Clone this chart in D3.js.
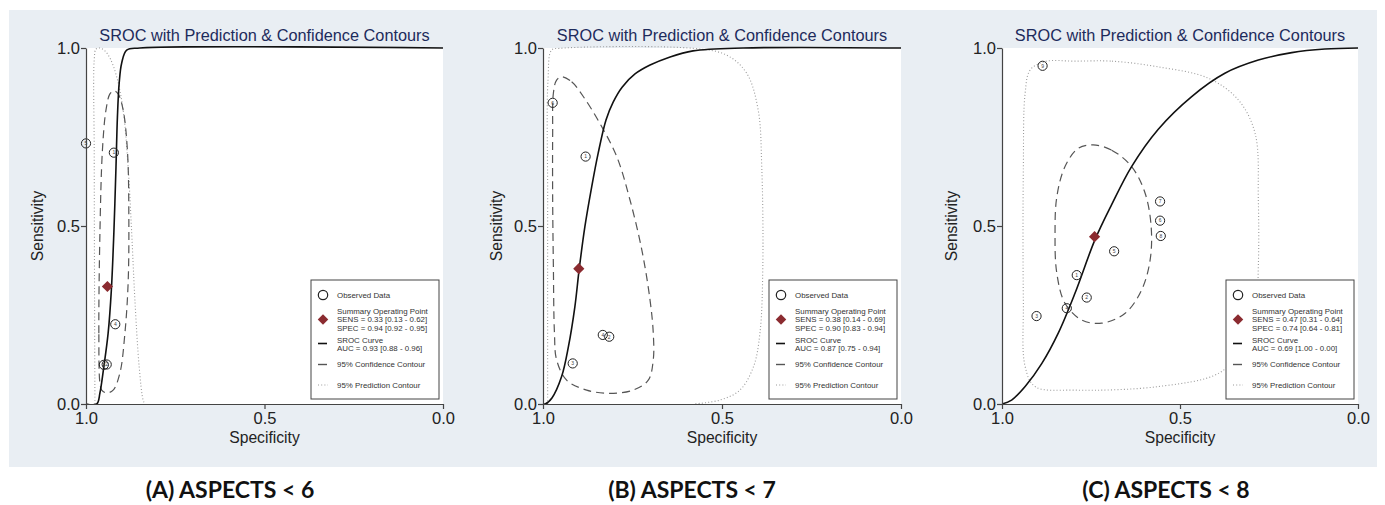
<!DOCTYPE html>
<html>
<head>
<meta charset="utf-8">
<script src="https://cdn.jsdelivr.net/npm/d3@7"></script>
<style>
  body { margin: 0; background: #fff; }
  svg { display: block; }
  text { font-family: "Liberation Sans", Arial, sans-serif; }
  text.caption { font-family: Lato, "Open Sans", sans-serif; font-weight: bold; }
</style>
</head>
<body>
<svg id="chart" width="1385" height="505"></svg>
<script>
// ---- data (specificity, sensitivity) ----
var title = "SROC with Prediction & Confidence Contours";
var captions = ["(A) ASPECTS < 6", "(B) ASPECTS < 7", "(C) ASPECTS < 8"];
var tickValues = [0, 0.5, 1];

// observed studies: [spec, sens, label]
var obsA = [[1.00, 0.732, "5"], [0.922, 0.706, "1"], [0.918, 0.224, "4"], [0.942, 0.111, "2"], [0.950, 0.110, "3"]];
var obsB = [[0.973, 0.846, "6"], [0.881, 0.695, "1"], [0.833, 0.194, "4"], [0.815, 0.189, "2"], [0.917, 0.114, "3"]];
var obsC = [[0.886, 0.950, "9"], [0.556, 0.569, "7"], [0.556, 0.515, "6"], [0.554, 0.472, "8"], [0.685, 0.429, "5"],
            [0.790, 0.362, "1"], [0.762, 0.299, "2"], [0.818, 0.269, "4"], [0.903, 0.247, "3"]];

// summary operating point: [spec, sens]
var summaryA = [0.94, 0.33];
var summaryB = [0.90, 0.38];
var summaryC = [0.74, 0.47];

// legend text
var summaryTextA = ["SENS = 0.33 [0.13 - 0.62]", "SPEC = 0.94 [0.92 - 0.95]"];
var summaryTextB = ["SENS = 0.38 [0.14 - 0.69]", "SPEC = 0.90 [0.83 - 0.94]"];
var summaryTextC = ["SENS = 0.47 [0.31 - 0.64]", "SPEC = 0.74 [0.64 - 0.81]"];
var aucA = "AUC = 0.93 [0.88 - 0.96]";
var aucB = "AUC = 0.87 [0.75 - 0.94]";
var aucC = "AUC = 0.69 [1.00 - 0.00]";

// SROC curves
var srocA = [[1.0, 0], [0.970, 0], [0.961, 0.031], [0.950, 0.105], [0.938, 0.199], [0.929, 0.320], [0.922, 0.480],
             [0.916, 0.666], [0.912, 0.806], [0.907, 0.902], [0.900, 0.958], [0.886, 0.994], [0.849, 1.0], [0, 1.0]];
var srocB = [[1.0, 0], [0.994, 0], [0.975, 0.017], [0.948, 0.077], [0.929, 0.161], [0.911, 0.273], [0.899, 0.378],
             [0.883, 0.498], [0.864, 0.610], [0.846, 0.704], [0.824, 0.798], [0.804, 0.848], [0.779, 0.890],
             [0.743, 0.927], [0.701, 0.952], [0.645, 0.975], [0.581, 0.992], [0.441, 1.0], [0, 1.0]];
var srocC = [[1.0, 0], [0.973, 0.011], [0.935, 0.049], [0.888, 0.114], [0.842, 0.199], [0.795, 0.311], [0.739, 0.461],
             [0.692, 0.560], [0.636, 0.667], [0.561, 0.772], [0.468, 0.863], [0.374, 0.929], [0.280, 0.966],
             [0.186, 0.987], [0.093, 0.997], [0, 1.0]];

// 95% confidence contours (closed)
var confA = [[0.961, 0.059], [0.964, 0.199], [0.961, 0.480], [0.954, 0.713], [0.944, 0.826], [0.933, 0.871], [0.922, 0.880],
             [0.910, 0.871], [0.896, 0.826], [0.884, 0.713], [0.880, 0.525], [0.882, 0.340], [0.891, 0.199], [0.905, 0.087],
             [0.924, 0.039], [0.942, 0.031], [0.956, 0.039]];
var confB = [[0.948, 0.919], [0.920, 0.905], [0.887, 0.863], [0.841, 0.788], [0.794, 0.695], [0.757, 0.573], [0.724, 0.433],
             [0.701, 0.292], [0.692, 0.199], [0.692, 0.124], [0.706, 0.067], [0.748, 0.039], [0.813, 0.030], [0.878, 0.039],
             [0.934, 0.067], [0.962, 0.124], [0.968, 0.199], [0.971, 0.386], [0.973, 0.573], [0.973, 0.760], [0.971, 0.873],
             [0.962, 0.910]];
var confC = [[0.744, 0.728], [0.692, 0.713], [0.636, 0.667], [0.598, 0.592], [0.581, 0.498], [0.584, 0.404], [0.608, 0.320],
             [0.654, 0.255], [0.720, 0.227], [0.776, 0.236], [0.823, 0.283], [0.846, 0.367], [0.851, 0.480], [0.846, 0.582],
             [0.823, 0.667], [0.786, 0.718]];

// 95% prediction contours (A, B open at the plot edge, C closed)
var predA = [[0.975, 0], [0.976, 0.292], [0.977, 0.713], [0.977, 0.966], [0.972, 0.997], [0.961, 1.0], [0.947, 0.992],
             [0.933, 0.972], [0.914, 0.919], [0.896, 0.826], [0.882, 0.666], [0.872, 0.480], [0.863, 0.292], [0.851, 0.104],
             [0.840, 0.011], [0.835, 0]];
var predB = [[0.987, 0], [0.987, 0.573], [0.986, 0.910], [0.976, 0.994], [0.953, 0.999], [0.580, 0.999], [0.487, 0.980],
             [0.431, 0.929], [0.399, 0.826], [0.389, 0.667], [0.386, 0.386], [0.394, 0.199], [0.412, 0.105], [0.450, 0.039],
             [0.506, 0.011], [0.580, 0]];
var predC = [[0.795, 0.963], [0.691, 0.963], [0.561, 0.947], [0.420, 0.915], [0.336, 0.854], [0.289, 0.760], [0.280, 0.573],
             [0.280, 0.386], [0.289, 0.245], [0.327, 0.152], [0.392, 0.086], [0.561, 0.049], [0.795, 0.039], [0.907, 0.049],
             [0.935, 0.105], [0.940, 0.292], [0.940, 0.667], [0.935, 0.873], [0.921, 0.938], [0.879, 0.962]];

// ---- layout ----
var svg = d3.select("#chart");
var plotTop = 48, plotBottom = 404;

svg.append("rect").attr("x", 9).attr("y", 10).attr("width", 1368).attr("height", 457).attr("fill", "#e9eef3");

var panels = [
  {left: 86, right: 443, obs: obsA, summary: summaryA, summaryText: summaryTextA, auc: aucA, sroc: srocA, conf: confA, pred: predA, predClosed: false, caption: captions[0], capX: 230, labOff: 48},
  {left: 543, right: 901, obs: obsB, summary: summaryB, summaryText: summaryTextB, auc: aucB, sroc: srocB, conf: confB, pred: predB, predClosed: false, caption: captions[1], capX: 692, labOff: 46},
  {left: 1002, right: 1358, obs: obsC, summary: summaryC, summaryText: summaryTextC, auc: aucC, sroc: srocC, conf: confC, pred: predC, predClosed: true, caption: captions[2], capX: 1166, labOff: 50}
];

panels.forEach(function(p, i) {
  var x = d3.scaleLinear().domain([1, 0]).range([p.left, p.right]);
  var y = d3.scaleLinear().domain([0, 1]).range([plotBottom, plotTop]);
  var g = svg.append("g");

  g.append("rect")
    .attr("x", p.left).attr("y", plotTop)
    .attr("width", p.right - p.left).attr("height", plotBottom - plotTop)
    .attr("fill", "#fff");

  var clipId = "clip" + i;
  svg.append("clipPath").attr("id", clipId).append("rect")
    .attr("x", p.left).attr("y", plotTop - 2)
    .attr("width", p.right - p.left + 1).attr("height", plotBottom - plotTop + 3);

  var lineSmooth = d3.line().x(d => x(d[0])).y(d => y(d[1])).curve(d3.curveCatmullRom.alpha(0.5));
  var lineClosed = d3.line().x(d => x(d[0])).y(d => y(d[1])).curve(d3.curveCatmullRomClosed.alpha(0.5));

  var plot = g.append("g").attr("clip-path", "url(#" + clipId + ")");

  // prediction contour
  plot.append("path")
    .attr("d", p.predClosed ? lineClosed(p.pred) : lineSmooth(p.pred))
    .attr("fill", "none").attr("stroke", "#9a9a9a").attr("stroke-width", 1.1)
    .attr("stroke-dasharray", "1,2.2");

  // confidence contour
  plot.append("path")
    .attr("d", lineClosed(p.conf))
    .attr("fill", "none").attr("stroke", "#555").attr("stroke-width", 1.2)
    .attr("stroke-dasharray", "8,5");

  // SROC curve
  plot.append("path")
    .attr("d", lineSmooth(p.sroc))
    .attr("fill", "none").attr("stroke", "#111").attr("stroke-width", 1.6);

  // observed studies (not clipped)
  var obs = g.selectAll(".obs").data(p.obs).enter().append("g").attr("class", "obs");
  obs.append("circle")
    .attr("cx", d => x(d[0])).attr("cy", d => y(d[1])).attr("r", 4.6)
    .attr("fill", "none").attr("stroke", "#222").attr("stroke-width", 1);
  obs.append("text")
    .attr("x", d => x(d[0])).attr("y", d => y(d[1]) + 1.8)
    .attr("text-anchor", "middle").attr("font-size", 5).attr("fill", "#444")
    .text(d => d[2]);

  // summary point
  g.append("path")
    .attr("d", d3.symbol(d3.symbolDiamond2, 80)())
    .attr("transform", "translate(" + x(p.summary[0]) + "," + y(p.summary[1]) + ")")
    .attr("fill", "#8b2b30");

  // axes
  var yAxis = g.append("g").attr("transform", "translate(" + p.left + ",0)")
    .call(d3.axisLeft(y).tickValues(tickValues).tickFormat(d3.format(".1f")).tickSize(5).tickSizeOuter(0));
  var xAxis = g.append("g").attr("transform", "translate(0," + plotBottom + ")")
    .call(d3.axisBottom(x).tickValues(tickValues).tickFormat(d3.format(".1f")).tickSize(5).tickSizeOuter(0));
  [yAxis, xAxis].forEach(function(a) {
    a.selectAll(".domain").attr("stroke", "#444").attr("stroke-width", 1.2);
    a.selectAll(".tick line").attr("stroke", "#444").attr("stroke-width", 1.2);
    a.selectAll("text").attr("font-size", 16.5).attr("fill", "#222");
  });
  yAxis.selectAll("text").attr("x", -6).attr("dy", "0.36em");
  xAxis.selectAll("text").attr("y", 8);

  var cx = (p.left + p.right) / 2;
  g.append("text").attr("x", cx).attr("y", 41).attr("text-anchor", "middle")
    .attr("font-size", 16.3).attr("fill", "#1d2b5c").text(title);
  g.append("text").attr("x", cx).attr("y", 443).attr("text-anchor", "middle")
    .attr("font-size", 15.7).attr("fill", "#222").text("Specificity");
  g.append("text").attr("transform", "translate(" + (p.left - p.labOff + 5) + "," + y(0.5) + ") rotate(-90)")
    .attr("text-anchor", "middle").attr("font-size", 15.7).attr("fill", "#222").text("Sensitivity");

  // legend
  var lx = p.right - 132, ly = 280;
  var leg = g.append("g").attr("transform", "translate(" + lx + "," + ly + ")");
  leg.append("rect").attr("width", 128).attr("height", 119)
    .attr("fill", "#fff").attr("stroke", "#444").attr("stroke-width", 1);
  var tx = 26, fs = 7.9;
  leg.append("circle").attr("cx", 12).attr("cy", 15).attr("r", 4.7)
    .attr("fill", "none").attr("stroke", "#222").attr("stroke-width", 1.2);
  leg.append("text").attr("x", tx).attr("y", 15).attr("dy", "0.35em").attr("font-size", fs).attr("fill", "#333").text("Observed Data");

  leg.append("path").attr("d", d3.symbol(d3.symbolDiamond2, 70)())
    .attr("transform", "translate(12,39.5)").attr("fill", "#8b2b30");
  var sumLines = ["Summary Operating Point"].concat(p.summaryText);
  sumLines.forEach(function(t, k) {
    leg.append("text").attr("x", tx).attr("y", 31.5 + k * 8.2).attr("dy", "0.35em")
      .attr("font-size", fs).attr("fill", "#333").text(t);
  });

  leg.append("line").attr("x1", 7).attr("x2", 16).attr("y1", 63.5).attr("y2", 63.5)
    .attr("stroke", "#111").attr("stroke-width", 1.6);
  ["SROC Curve", p.auc].forEach(function(t, k) {
    leg.append("text").attr("x", tx).attr("y", 60 + k * 8.2).attr("dy", "0.35em")
      .attr("font-size", fs).attr("fill", "#333").text(t);
  });

  leg.append("line").attr("x1", 7).attr("x2", 16).attr("y1", 84.5).attr("y2", 84.5)
    .attr("stroke", "#555").attr("stroke-width", 1.4);
  leg.append("text").attr("x", tx).attr("y", 84.5).attr("dy", "0.35em")
    .attr("font-size", fs).attr("fill", "#333").text("95% Confidence Contour");

  leg.append("line").attr("x1", 7).attr("x2", 17).attr("y1", 105).attr("y2", 105)
    .attr("stroke", "#9a9a9a").attr("stroke-width", 1.1).attr("stroke-dasharray", "1,2.2");
  leg.append("text").attr("x", tx).attr("y", 105).attr("dy", "0.35em")
    .attr("font-size", fs).attr("fill", "#333").text("95% Prediction Contour");

  // caption under the panel
  svg.append("text").attr("class", "caption").attr("x", p.capX).attr("y", 498).attr("text-anchor", "middle")
    .attr("font-size", 23).attr("fill", "#111").text(p.caption);
});
</script>
</body>
</html>
